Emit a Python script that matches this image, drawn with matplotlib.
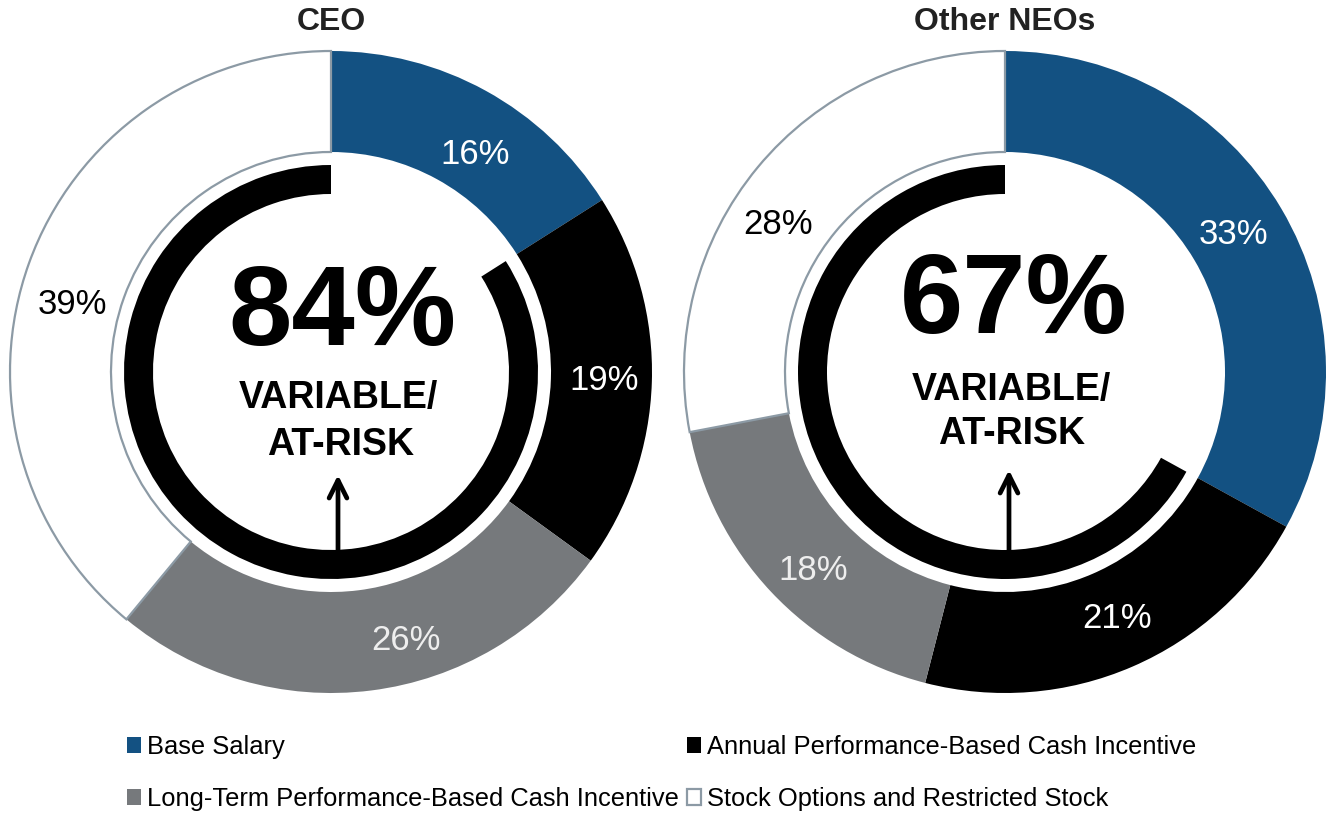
import matplotlib
matplotlib.use("Agg")
from matplotlib import pyplot as plt
from matplotlib import font_manager
from matplotlib.patches import Wedge

# data
categories = ["Base Salary", "Annual Performance-Based Cash Incentive",
              "Long-Term Performance-Based Cash Incentive", "Stock Options and Restricted Stock"]
ceo_values = [16, 19, 26, 39]
neo_values = [33, 21, 18, 28]
titles = ["CEO", "Other NEOs"]
colors = ["#135182", "#000000", "#76797c", "#ffffff"]
label_colors = ["#ffffff", "#ffffff", "#eeeeee", "#000000"]

# pixel layout (y measured from the top of the picture)
W, H = 1327, 816
centers = [(331, 372), (1005, 372)]
R_OUT, R_IN = 321, 220
RING_R, RING_W = 207, 29
label_pos = [[(475, 155), (604, 380), (406, 640), (72, 305)],
             [(1233, 235), (1117, 618), (813, 570), (778, 225)]]
big_pos = [(342, 345), (1014, 333)]     # baselines
var_pos = [(338, 408), (1011, 400)]
risk_pos = [(341, 455), (1012, 444)]
arrow_x = [338, 1009]
arrow_top = [475, 470]

names = {f.name for f in font_manager.fontManager.ttflist}
narrow = "Liberation Sans Narrow" if "Liberation Sans Narrow" in names else "Liberation Sans"
plain = "Liberation Sans"

fig = plt.figure(figsize=(W / 100, H / 100), dpi=100)
ax = fig.add_axes([0, 0, 1, 1])


def fy(y):
    return H - y


all_wedges = []
for i, vals in enumerate([ceo_values, neo_values]):
    cx, cy = centers[i]
    wedges, _ = ax.pie(vals, colors=colors, radius=R_OUT, center=(cx, fy(cy)),
                       startangle=90, counterclock=False,
                       wedgeprops=dict(width=R_OUT - R_IN, linewidth=0))
    wedges[3].set_edgecolor("#8c9aa5")
    wedges[3].set_linewidth(1.6)
    all_wedges.append(wedges)

    # variable / at-risk ring
    variable = 100 - vals[0]
    ring = Wedge((cx, fy(cy)), RING_R, 90, 90 + 360 * variable / 100, width=RING_W,
                 facecolor="black", edgecolor="none")
    ax.add_patch(ring)

    for j, v in enumerate(vals):
        x, y = label_pos[i][j]
        ax.text(x, fy(y), f"{v}%", ha="center", va="center", fontsize=25,
                family=narrow, color=label_colors[j])

    ax.text(big_pos[i][0], fy(big_pos[i][1]), f"{variable}%", ha="center", va="baseline",
            fontsize=82, family=narrow, fontweight="bold")
    ax.text(var_pos[i][0], fy(var_pos[i][1]), "VARIABLE/", ha="center", va="baseline",
            fontsize=27, family=narrow, fontweight="bold")
    ax.text(risk_pos[i][0], fy(risk_pos[i][1]), "AT-RISK", ha="center", va="baseline",
            fontsize=27, family=narrow, fontweight="bold")
    ax.annotate("", xy=(arrow_x[i], fy(arrow_top[i])), xytext=(arrow_x[i], fy(cy + RING_R - RING_W)),
                arrowprops=dict(arrowstyle="->", lw=3.4, color="black", mutation_scale=32,
                                shrinkA=0, shrinkB=0))
    ax.text(cx, fy(22), titles[i], ha="center", va="center", fontsize=23,
            family=plain, fontweight="bold", color="#222222")

ax.set_xlim(0, W)
ax.set_ylim(0, H)
ax.set_aspect("equal")
ax.axis("off")

w = all_wedges[0]
leg = ax.legend([w[0], w[2], w[1], w[3]],
                [categories[0], categories[2], categories[1], categories[3]],
                ncol=2, loc="lower left", bbox_to_anchor=(127 / W, 5 / H),
                frameon=False, prop=dict(family=narrow, size=18.4),
                handlelength=0.55, handleheight=0.55, handletextpad=0.25,
                columnspacing=0.3, labelspacing=1.1, borderpad=0, borderaxespad=0)

fig.savefig("out.png", dpi=100)
